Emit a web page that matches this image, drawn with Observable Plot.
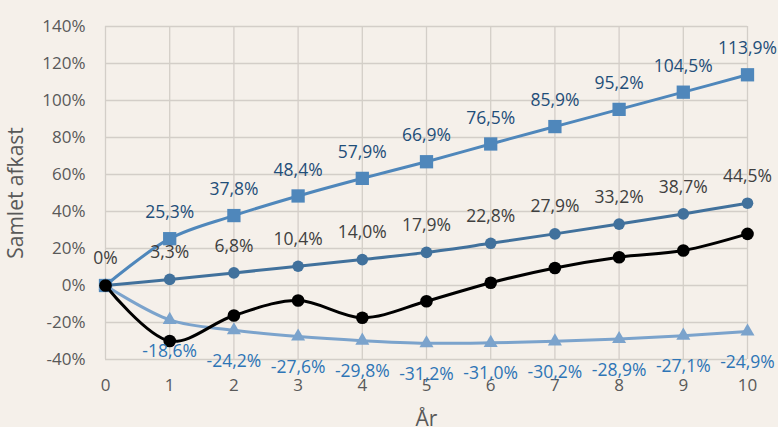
<!DOCTYPE html>
<html>
<head>
<meta charset="utf-8">
<script src="https://cdn.jsdelivr.net/npm/d3@7"></script>
<script src="https://cdn.jsdelivr.net/npm/@observablehq/plot@0.6"></script>
<style>
  html, body { margin: 0; padding: 0; background: #f5f0ea; }
  #chart svg { display: block; }
</style>
</head>
<body>
<div id="chart"></div>
<script>
const years = [0, 1, 2, 3, 4, 5, 6, 7, 8, 9, 10];
const seriesHigh = [0, 25.3, 37.8, 48.4, 57.9, 66.9, 76.5, 85.9, 95.2, 104.5, 113.9];
const seriesMid = [0, 3.3, 6.8, 10.4, 14.0, 17.9, 22.8, 27.9, 33.2, 38.7, 44.5];
const seriesLow = [0, -18.6, -24.2, -27.6, -29.8, -31.2, -31.0, -30.2, -28.9, -27.1, -24.9];
const seriesActual = [0, -30.0, -16.2, -8.1, -17.4, -8.5, 1.5, 9.5, 15.3, 18.9, 27.9];
const yTicks = [-40, -20, 0, 20, 40, 60, 80, 100, 120, 140];

const toRows = (vals) => years.map((x, i) => ({x, y: vals[i]}));
const high = toRows(seriesHigh);
const mid = toRows(seriesMid);
const low = toRows(seriesLow);
const actual = toRows(seriesActual);
const fmt = (v) => v === 0 ? "0%" : v.toFixed(1).replace(".", ",") + "%";

const cHigh = "#4f87bb";
const cMid = "#41719c";
const cLow = "#7ba3cc";
const font = "'Open Sans', sans-serif";

const chart = Plot.plot({
  width: 778,
  height: 427,
  marginLeft: 105,
  marginRight: 31,
  marginTop: 26,
  marginBottom: 68,
  style: {background: "#f5f0ea", fontFamily: font, fontSize: "17px", color: "#595959", overflow: "visible"},
  x: {domain: [0, 10]},
  y: {domain: [-40, 140]},
  marks: [
    Plot.gridX(years, {stroke: "#d3cec8", strokeOpacity: 1, strokeWidth: 1.3}),
    Plot.gridY(yTicks, {stroke: "#d3cec8", strokeOpacity: 1, strokeWidth: 1.3}),
    Plot.axisX(years, {tickSize: 0, tickPadding: 19, fontSize: 17, fill: "#595959", label: null}),
    Plot.axisX({tickSize: 0, ticks: [], fontSize: 21, fill: "#595959",
      label: "År", labelAnchor: "center", labelOffset: 66, labelArrow: "none"}),
    Plot.axisY(yTicks, {tickSize: 0, tickPadding: 20, fontSize: 17, fill: "#595959",
      tickFormat: d => d + "%", label: null}),
    Plot.axisY({tickSize: 0, ticks: [], fontSize: 21, fill: "#595959",
      label: "Samlet afkast", labelAnchor: "center", labelOffset: 97, labelArrow: "none"}),
    Plot.line(high, {x: "x", y: "y", stroke: cHigh, strokeWidth: 3, curve: "catmull-rom"}),
    Plot.dot(high, {x: "x", y: "y", symbol: "square", r: 7.5, fill: cHigh}),
    Plot.line(mid, {x: "x", y: "y", stroke: cMid, strokeWidth: 3, curve: "catmull-rom"}),
    Plot.dot(mid, {x: "x", y: "y", symbol: "circle", r: 5.8, fill: cMid}),
    Plot.line(low, {x: "x", y: "y", stroke: cLow, strokeWidth: 3, curve: "catmull-rom"}),
    Plot.dot(low, {x: "x", y: "y", symbol: "triangle", r: 5.2, fill: cLow}),
    Plot.line(actual, {x: "x", y: "y", stroke: "#000000", strokeWidth: 3, curve: "catmull-rom"}),
    Plot.dot(actual, {x: "x", y: "y", symbol: "circle", r: 6.3, fill: "#000000"}),
    Plot.text(high.filter(d => d.x > 0), {x: "x", y: "y", text: d => fmt(d.y), dy: -26, fill: "#1f4e79", fontSize: 17.5}),
    Plot.text(mid, {x: "x", y: "y", text: d => fmt(d.y), dy: -27, fill: "#404040", fontSize: 17.5}),
    Plot.text(low.filter(d => d.x > 0), {x: "x", y: "y", text: d => fmt(d.y), dy: 31, fill: "#2e75b6", fontSize: 17.5})
  ]
});
document.getElementById("chart").appendChild(chart);
</script>
</body>
</html>
